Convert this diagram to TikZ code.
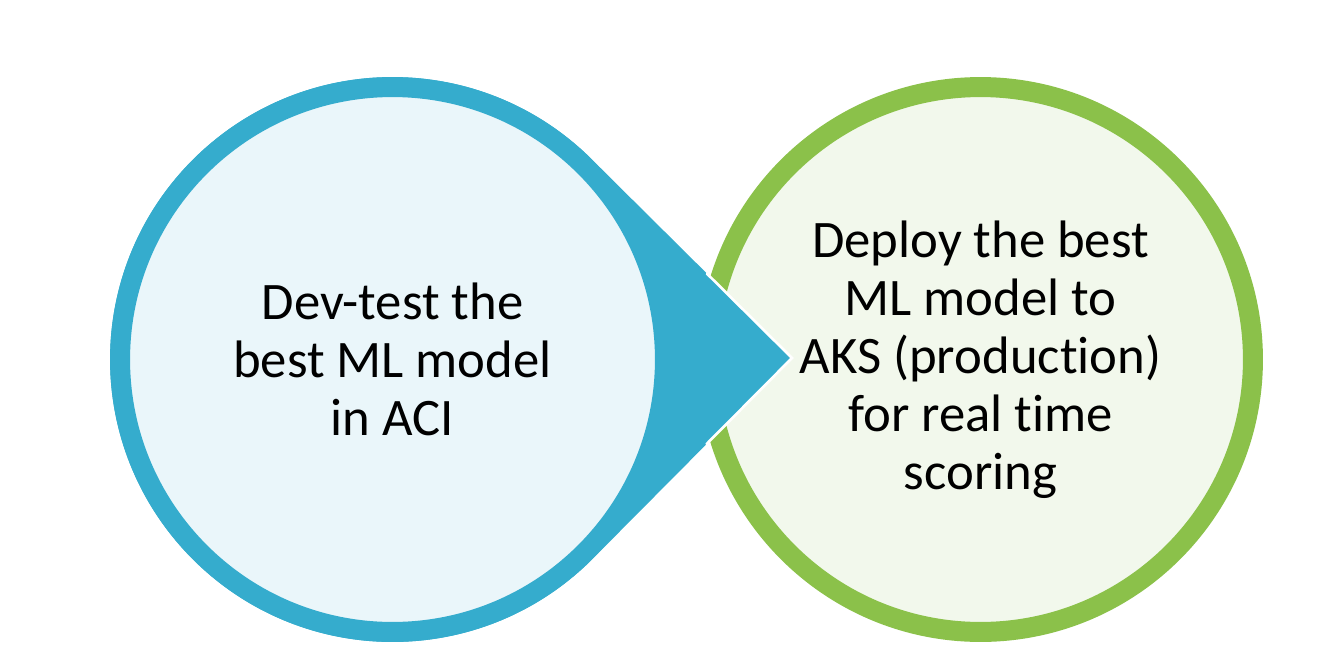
\documentclass[tikz,border=0pt]{standalone}
\usepackage{fontspec}
\setmainfont{Carlito}[Ligatures={NoCommon,NoContextual}]
\usetikzlibrary{calc}
\definecolor{ringblue}{RGB}{53,172,205}
\definecolor{paleblue}{RGB}{234,246,250}
\definecolor{ringgreen}{RGB}{139,193,74}
\definecolor{palegreen}{RGB}{242,248,236}

\begin{document}
\begin{tikzpicture}[x=0.02cm,y=-0.02cm,
	stage/.style={circle,line width=0.4cm,minimum size=10.9cm,inner sep=0pt,
		align=center,font=\fontsize{30}{33}\selectfont}]
	\useasboundingbox (0,0) rectangle (1340,653);
	\coordinate (c1) at (392.5,359.5);
	\coordinate (tip) at (792,358);
	\node[stage,draw=ringgreen,fill=palegreen] (deploy) at (980.5,359.5)
		{Deploy the best\\ML model to\\AKS (production)\\for real time\\scoring};
	\fill[ringblue] (tip) -- ($(c1)+(45:5.65cm)$) arc[start angle=45,end angle=315,radius=5.65cm] -- cycle;
	\begin{scope}
		\clip (deploy.center) circle[radius=5.75cm];
		\draw[white,line width=1.5pt,line join=miter] ($(c1)+(45:5.65cm)$) -- (tip) -- ($(c1)+(-45:5.65cm)$);
	\end{scope}
	\node[stage,draw=ringblue,fill=paleblue] (devtest) at (c1)
		{Dev-test the\\best ML model\\in ACI};
\end{tikzpicture}
\end{document}
